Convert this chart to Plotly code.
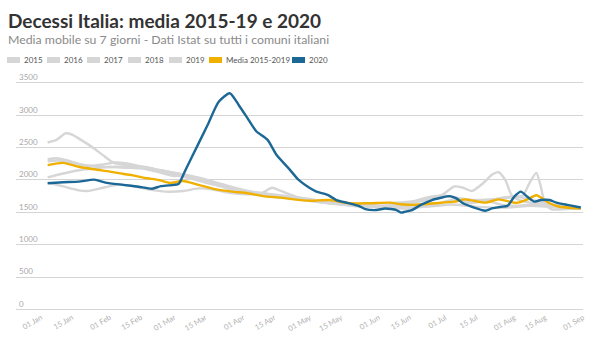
import plotly.graph_objects as go

# ---------------- data ----------------
series_names = ["2015", "2016", "2017", "2018", "2019", "Media 2015-2019", "2020"]

d2015 = ["2020-01-04", "2020-01-08", "2020-01-12", "2020-01-15", "2020-01-19", "2020-01-24", "2020-01-29",
         "2020-02-03", "2020-02-10", "2020-02-17", "2020-02-24", "2020-03-03", "2020-03-10", "2020-03-17",
         "2020-03-24", "2020-03-31", "2020-04-07", "2020-04-14", "2020-04-21", "2020-04-28", "2020-05-05",
         "2020-05-12", "2020-05-19", "2020-05-26", "2020-06-02", "2020-06-09", "2020-06-16", "2020-06-23",
         "2020-06-30", "2020-07-05", "2020-07-09", "2020-07-13", "2020-07-18", "2020-07-22", "2020-07-25",
         "2020-07-28", "2020-07-31", "2020-08-04", "2020-08-10", "2020-08-17", "2020-08-24", "2020-08-31"]
v2015 = [2580, 2620, 2720, 2700, 2620, 2510, 2380, 2260, 2230, 2200, 2150, 2100, 2050, 1990,
         1920, 1850, 1800, 1760, 1730, 1700, 1680, 1650, 1620, 1600, 1600, 1620, 1640, 1700,
         1780, 1900, 1880, 1830, 1950, 2080, 2120, 2000, 1760, 1680, 1640, 1600, 1580, 1565]

d2016 = ["2020-01-04", "2020-01-11", "2020-01-18", "2020-01-25", "2020-02-01", "2020-02-08", "2020-02-15",
         "2020-02-22", "2020-03-01", "2020-03-08", "2020-03-15", "2020-03-22", "2020-03-29", "2020-04-05",
         "2020-04-12", "2020-04-19", "2020-04-26", "2020-05-03", "2020-05-10", "2020-05-17", "2020-05-24",
         "2020-05-31", "2020-06-07", "2020-06-14", "2020-06-21", "2020-06-28", "2020-07-05", "2020-07-12",
         "2020-07-19", "2020-07-26", "2020-08-02", "2020-08-09", "2020-08-16", "2020-08-23", "2020-08-31"]
v2016 = [2040, 2100, 2150, 2180, 2200, 2210, 2200, 2150, 2080, 2030, 1960, 1900, 1840, 1800,
         1770, 1730, 1700, 1670, 1640, 1620, 1600, 1590, 1580, 1560, 1600, 1640, 1700, 1640,
         1680, 1620, 1600, 1620, 1600, 1570, 1560]

d2017 = ["2020-01-04", "2020-01-08", "2020-01-12", "2020-01-18", "2020-01-25", "2020-02-01", "2020-02-08",
         "2020-02-15", "2020-02-22", "2020-03-01", "2020-03-05", "2020-03-10", "2020-03-17", "2020-03-24",
         "2020-03-31", "2020-04-07", "2020-04-14", "2020-04-21", "2020-04-28", "2020-05-05", "2020-05-12",
         "2020-05-19", "2020-05-26", "2020-06-02", "2020-06-09", "2020-06-16", "2020-06-23", "2020-06-30",
         "2020-07-07", "2020-07-14", "2020-07-21", "2020-07-28", "2020-08-02", "2020-08-05", "2020-08-08",
         "2020-08-11", "2020-08-13", "2020-08-15", "2020-08-18", "2020-08-24", "2020-08-31"]
v2017 = [2320, 2335, 2310, 2250, 2210, 2200, 2190, 2180, 2130, 2060, 2080, 2010, 1960, 1880,
         1820, 1780, 1740, 1720, 1690, 1660, 1630, 1610, 1620, 1640, 1650, 1670, 1730, 1760,
         1720, 1690, 1700, 1720, 1740, 1760, 1960, 2110, 1900, 1620, 1545, 1550, 1560]

d2018 = ["2020-01-04", "2020-01-11", "2020-01-18", "2020-01-22", "2020-01-29", "2020-02-05", "2020-02-12",
         "2020-02-19", "2020-02-26", "2020-03-05", "2020-03-12", "2020-03-19", "2020-03-26", "2020-04-02",
         "2020-04-09", "2020-04-14", "2020-04-18", "2020-04-25", "2020-05-02", "2020-05-09", "2020-05-16",
         "2020-05-23", "2020-05-30", "2020-06-06", "2020-06-13", "2020-06-20", "2020-06-27", "2020-07-04",
         "2020-07-11", "2020-07-18", "2020-07-25", "2020-08-01", "2020-08-08", "2020-08-15", "2020-08-22",
         "2020-08-31"]
v2018 = [1960, 1900, 1840, 1830, 1880, 1930, 1900, 1850, 1820, 1830, 1870, 1850, 1800, 1780,
         1790, 1880, 1830, 1740, 1700, 1660, 1620, 1590, 1580, 1570, 1560, 1580, 1600, 1620,
         1600, 1580, 1570, 1580, 1600, 1590, 1570, 1560]

d2019 = ["2020-01-04", "2020-01-09", "2020-01-15", "2020-01-22", "2020-01-29", "2020-02-03", "2020-02-08",
         "2020-02-15", "2020-02-22", "2020-03-01", "2020-03-08", "2020-03-15", "2020-03-22", "2020-03-29",
         "2020-04-05", "2020-04-12", "2020-04-19", "2020-04-26", "2020-05-03", "2020-05-10", "2020-05-17",
         "2020-05-24", "2020-05-31", "2020-06-07", "2020-06-14", "2020-06-21", "2020-06-28", "2020-07-02",
         "2020-07-09", "2020-07-16", "2020-07-23", "2020-07-30", "2020-08-06", "2020-08-13", "2020-08-20",
         "2020-08-27", "2020-08-31"]
v2019 = [2290, 2300, 2260, 2220, 2240, 2270, 2260, 2210, 2160, 2110, 2060, 2000, 1930, 1870,
         1820, 1790, 1760, 1720, 1680, 1650, 1630, 1610, 1600, 1590, 1600, 1620, 1740, 1750,
         1680, 1660, 1700, 1740, 1720, 1660, 1610, 1570, 1560]

d_media = ["2020-01-04", "2020-01-11", "2020-01-18", "2020-01-25", "2020-02-01", "2020-02-05", "2020-02-11",
           "2020-02-17", "2020-02-23", "2020-02-28", "2020-03-05", "2020-03-12", "2020-03-20", "2020-03-27",
           "2020-04-03", "2020-04-10", "2020-04-18", "2020-04-23", "2020-05-01", "2020-05-10", "2020-05-19",
           "2020-05-28", "2020-06-06", "2020-06-11", "2020-06-17", "2020-06-26", "2020-07-05", "2020-07-10",
           "2020-07-19", "2020-07-25", "2020-08-02", "2020-08-07", "2020-08-11", "2020-08-17", "2020-08-21",
           "2020-08-31"]
v_media = [2230, 2265, 2205, 2165, 2130, 2105, 2075, 2030, 2000, 1955, 1985, 1925, 1855, 1820,
           1795, 1750, 1727, 1705, 1680, 1690, 1640, 1640, 1650, 1625, 1615, 1640, 1665, 1700,
           1650, 1700, 1645, 1700, 1765, 1640, 1590, 1560]

d2020 = ["2020-01-04", "2020-01-11", "2020-01-18", "2020-01-25", "2020-01-30", "2020-02-07", "2020-02-14",
         "2020-02-20", "2020-02-24", "2020-03-01", "2020-03-03", "2020-03-06", "2020-03-12", "2020-03-16",
         "2020-03-21", "2020-03-26", "2020-03-30", "2020-04-04", "2020-04-07", "2020-04-12", "2020-04-16",
         "2020-04-22", "2020-04-26", "2020-05-01", "2020-05-04", "2020-05-09", "2020-05-13", "2020-05-18",
         "2020-05-23", "2020-05-26", "2020-05-31", "2020-06-04", "2020-06-09", "2020-06-11", "2020-06-13",
         "2020-06-16", "2020-06-20", "2020-06-25", "2020-06-29", "2020-07-03", "2020-07-06", "2020-07-09",
         "2020-07-13", "2020-07-19", "2020-07-22", "2020-07-26", "2020-07-29", "2020-08-01", "2020-08-04",
         "2020-08-07", "2020-08-10", "2020-08-13", "2020-08-17", "2020-08-20", "2020-08-25", "2020-08-31"]
v2020 = [1950, 1965, 1975, 2005, 1960, 1925, 1895, 1865, 1905, 1925, 1940, 2150, 2570, 2850,
         3210, 3340, 3160, 2900, 2750, 2620, 2390, 2160, 2000, 1875, 1820, 1770, 1690, 1645,
         1600, 1550, 1535, 1560, 1535, 1495, 1510, 1535, 1615, 1690, 1725, 1750, 1715, 1640,
         1585, 1525, 1560, 1585, 1600, 1740, 1820, 1740, 1665, 1690, 1690, 1650, 1615, 1575]

tick_vals = ["2020-01-01", "2020-01-15", "2020-02-01", "2020-02-15", "2020-03-01", "2020-03-15",
             "2020-04-01", "2020-04-15", "2020-05-01", "2020-05-15", "2020-06-01", "2020-06-15",
             "2020-07-01", "2020-07-15", "2020-08-01", "2020-08-15", "2020-09-01"]
tick_text = ["01 Jan", "15 Jan", "01 Feb", "15 Feb", "01 Mar", "15 Mar", "01 Apr", "15 Apr",
             "01 May", "15 May", "01 Jun", "15 Jun", "01 Jul", "15 Jul", "01 Aug", "15 Aug", "01 Sep"]
y_ticks = [0, 500, 1000, 1500, 2000, 2500, 3000, 3500]

# ---------------- styling ----------------
GRAY = "#d6d6d6"
ORANGE = "#f0b000"
BLUE = "#1b6896"
colors = [GRAY, GRAY, GRAY, GRAY, GRAY, ORANGE, BLUE]
FONT = "Lato, 'Noto Sans', sans-serif"

W, H = 600, 360
ML, MR, MT, MB = 16, 17, 81, 49
PW, PH = W - ML - MR, H - MT - MB

fig = go.Figure()
series = [(d2015, v2015), (d2016, v2016), (d2017, v2017), (d2018, v2018), (d2019, v2019),
          (d_media, v_media), (d2020, v2020)]
for (dx, vy), name, col in zip(series, series_names, colors):
    fig.add_trace(go.Scatter(x=dx, y=vy, name=name, mode="lines",
                             line=dict(color=col, width=2.4, shape="spline", smoothing=0.6),
                             showlegend=False, hoverinfo="x+y+name"))

def px_x(p):
    return (p - ML) / PW

def px_y(p):
    return (H - MB - p) / PH

# custom legend row
legend_x = [7, 47, 87, 128, 169, 209, 292]
shapes = []
annotations = []
for lx, name, col in zip(legend_x, series_names, colors):
    shapes.append(dict(type="rect", xref="paper", yref="paper",
                       x0=px_x(lx), x1=px_x(lx + 13), y0=px_y(63), y1=px_y(57),
                       fillcolor=col, line=dict(width=0), layer="above"))
    annotations.append(dict(text=name, xref="paper", yref="paper", x=px_x(lx + 15), y=px_y(60),
                            xanchor="left", yanchor="middle", showarrow=False,
                            font=dict(family=FONT, size=8, color="#555555")))

annotations.append(dict(text="<b>Decessi Italia: media 2015-19 e 2020</b>", xref="paper", yref="paper",
                        x=px_x(6), y=px_y(7), xanchor="left", yanchor="top", showarrow=False,
                        font=dict(family=FONT, size=19, color="#333333")))
annotations.append(dict(text="Media mobile su 7 giorni - Dati Istat su tutti i comuni italiani",
                        xref="paper", yref="paper", x=px_x(6), y=px_y(30), xanchor="left", yanchor="top",
                        showarrow=False, font=dict(family=FONT, size=12.3, color="#8a8a8a")))

fig.update_layout(
    width=W, height=H,
    margin=dict(l=ML, r=MR, t=MT, b=MB, pad=0),
    paper_bgcolor="white", plot_bgcolor="white",
    font=dict(family=FONT),
    shapes=shapes, annotations=annotations,
    showlegend=False,
    xaxis=dict(type="date", range=["2019-12-20 18:00", "2020-09-01"], automargin=False,
               tickvals=tick_vals, ticktext=tick_text, tickangle=-30,
               tickfont=dict(family=FONT, size=7.5, color="#b0b0b0"),
               showgrid=False, zeroline=False, showline=False, ticks=""),
    yaxis=dict(range=[-25, 3530], tickvals=y_ticks, automargin=False,
               ticklabelposition="inside top", ticklabeloverflow="allow",
               tickfont=dict(family=FONT, size=8, color="#a8a8a8"),
               showgrid=True, gridcolor="#d4d4d4", gridwidth=1,
               zeroline=False, showline=False, ticks=""),
)

fig.write_html("out.html", config={"displayModeBar": False},
               post_script="document.body.style.margin='0';document.body.style.overflow='hidden';")
